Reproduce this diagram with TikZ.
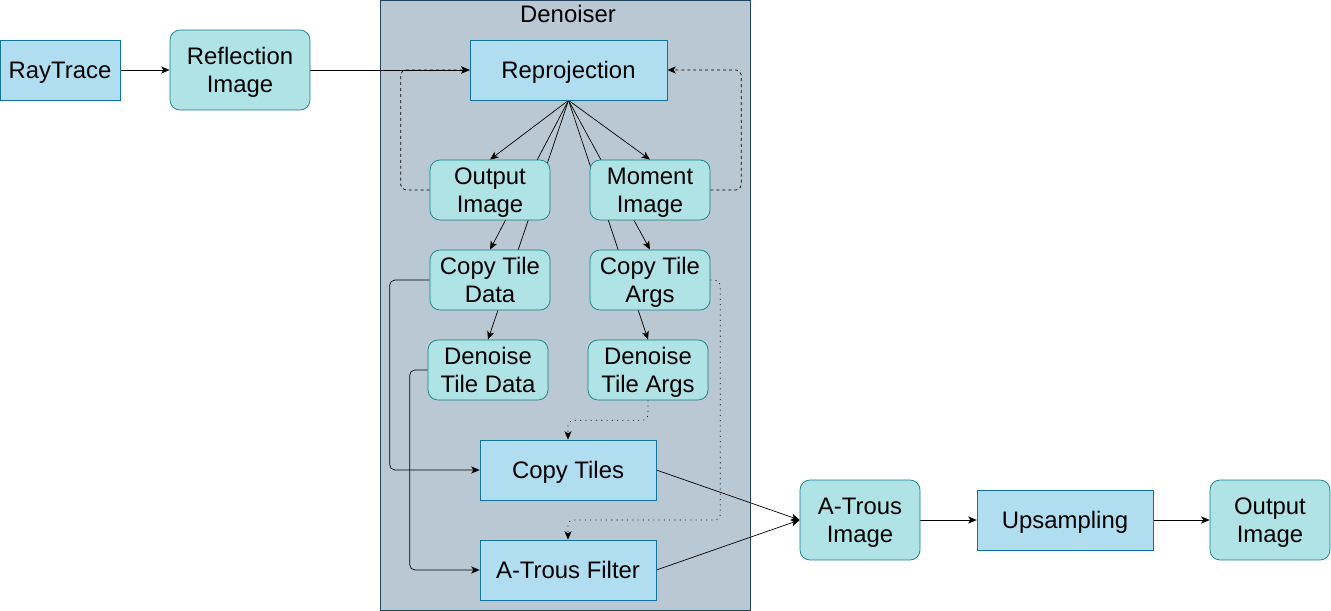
\documentclass[tikz,border=0pt]{standalone}
\usepackage{fontspec}
\setmainfont{Liberation Sans}
\usetikzlibrary{arrows.meta}

% Colori dei blocchi
\definecolor{bluFill}{HTML}{B1DDF0}
\definecolor{bluBordo}{HTML}{10739E}
\definecolor{tealFill}{HTML}{B0E3E6}
\definecolor{tealBordo}{HTML}{0E8088}
\definecolor{grigioFill}{HTML}{BAC8D3}
\definecolor{grigioBordo}{HTML}{23445D}

% Livelli: contenitore sotto, archi nel mezzo, blocchi sopra
\pgfdeclarelayer{sfondo}
\pgfdeclarelayer{archi}
\pgfsetlayers{sfondo,archi,main}

\newcommand{\testo}{\fontsize{13.6}{15.8}\selectfont}

\tikzset{
	passo/.style={draw=bluBordo, fill=bluFill, minimum width=3.52cm, minimum height=1.2cm,
		inner sep=1pt, align=center, text depth=0pt, font=\testo},
	immagine/.style={draw=tealBordo, fill=tealFill, rounded corners=0.2cm, minimum width=2.4cm,
		minimum height=1.2cm, inner sep=1pt, align=center, text depth=0pt, font=\testo},
	contenitore/.style={draw=grigioBordo, fill=grigioFill},
	tratteggio/.style={dash pattern=on 1.7pt off 1.7pt, rounded corners=3pt},
	puntini/.style={dash pattern=on 0.6pt off 2.4pt, rounded corners=3pt},
}

\begin{document}
\begin{tikzpicture}[>={Stealth[length=4.8pt, width=4pt, inset=1.2pt]}, x=0.02cm, y=-0.02cm, line width=0.6pt]
		\useasboundingbox (0,0) rectangle (1331,611);
		
		% --- Contenitore Denoiser ---
		\begin{pgfonlayer}{sfondo}
			\node[contenitore, minimum width=7.4cm, minimum height=12.2cm] (denoiser) at (565,305) {};
		\end{pgfonlayer}
		\node[font=\testo] (titolo) at (568,14) {Denoiser};
		
		% --- Blocchi ---
		\node[passo, minimum width=2.4cm] (raytrace) at (60,70) {RayTrace};
		\node[immagine, minimum width=2.8cm, minimum height=1.6cm] (riflesso) at (240,70) {Reflection\\Image};
		\node[passo, minimum width=3.94cm] (reproj) at (568.5,70) {Reprojection};
		\node[immagine] (outimg) at (490,190) {Output\\Image};
		\node[immagine] (moment) at (650,190) {Moment\\Image};
		\node[immagine] (ctdata) at (490,280) {Copy Tile\\Data};
		\node[immagine] (ctargs) at (650,280) {Copy Tile\\Args};
		\node[immagine] (dtdata) at (488,370) {Denoise\\Tile Data};
		\node[immagine] (dtargs) at (648,370) {Denoise\\Tile Args};
		\node[passo] (ctiles) at (568,470) {Copy Tiles};
		\node[passo] (atfilter) at (568,570) {A-Trous Filter};
		\node[immagine, minimum height=1.6cm] (atimg) at (860,520) {A-Trous\\Image};
		\node[passo] (upsampling) at (1065,520) {Upsampling};
		\node[immagine, minimum height=1.6cm] (outfinal) at (1270,520) {Output\\Image};
		
		% --- Archi ---
		\begin{pgfonlayer}{archi}
			% Catena principale
			\draw[->] (raytrace) -- (riflesso);
			\draw[->] (riflesso) -- (reproj);
			\draw[->] (atimg) -- (upsampling);
			\draw[->] (upsampling) -- (outfinal);
			
			% Uscite della riproiezione (passano dietro i blocchi)
			\foreach \dest in {outimg, ctdata, dtdata, moment, ctargs, dtargs}
				\draw[->] (reproj.south) -- (\dest.north);
			
			% Ritorni tratteggiati
			\draw[->, tratteggio] (outimg.west) -- ++(-29,0) |- (reproj.west);
			\draw[->, tratteggio] (moment.east) -- ++(31,0) |- (reproj.east);
			
			% Argomenti punteggiati
			\draw[->, puntini] (dtargs.south) -- ++(0,20) -| (ctiles.north);
			\draw[->, puntini] (ctargs.east) -| ++(10,240) -| (atfilter.north);
			
			% Dati verso i filtri
			\draw[->, rounded corners=3pt] (ctdata.west) -- ++(-40,0) |- (ctiles.west);
			\draw[->, rounded corners=3pt] (dtdata.west) -- ++(-18,0) |- (atfilter.west);
			
			% Verso l'immagine A-Trous
			\draw[->] (ctiles.east) -- (atimg.west);
			\draw[->] (atfilter.east) -- (atimg.west);
		\end{pgfonlayer}
\end{tikzpicture}
\end{document}
